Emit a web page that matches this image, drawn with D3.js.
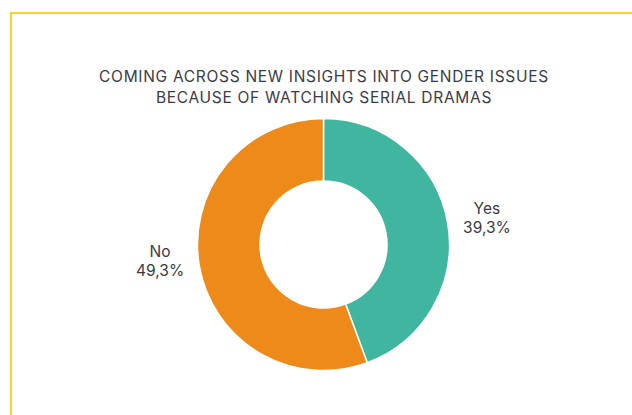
<!DOCTYPE html>
<html>
<head>
<meta charset="utf-8">
<script src="https://cdn.jsdelivr.net/npm/d3@7"></script>
<style>
  html, body { margin: 0; padding: 0; background: #ffffff; }
  svg { display: block; }
  text { font-family: "Inter", "Lato", "DejaVu Sans", sans-serif; }
</style>
</head>
<body>
<svg id="chart" width="632" height="415"></svg>
<script>
// Survey answers
const categories = ["Yes", "No"];
const values = [39.3, 49.3];
const valueLabels = ["39,3%", "49,3%"];
const colors = ["#40B5A0", "#EE8A19"];
const titleLines = [
  "COMING ACROSS NEW INSIGHTS INTO GENDER ISSUES",
  "BECAUSE OF WATCHING SERIAL DRAMAS"
];

const svg = d3.select("#chart");
const W = 632, H = 415;

// Frame: yellow border open on the right and bottom
svg.append("rect")
  .attr("x", 11).attr("y", 13)
  .attr("width", W + 20).attr("height", H + 20)
  .attr("fill", "#ffffff")
  .attr("stroke", "#F6D32E")
  .attr("stroke-width", 2);

// Title
const title = svg.append("text")
  .attr("text-anchor", "middle")
  .attr("fill", "#3b3b46")
  .style("font-size", "15.5px")
  .style("letter-spacing", "0.7px")
  .style("font-weight", 400);
titleLines.forEach((t, i) => {
  title.append("tspan")
    .attr("x", 324)
    .attr("y", 82 + i * 21)
    .text(t);
});

// Donut
const cx = 323.5, cy = 244.5;
const outerR = 126, innerR = 63.5;

const pie = d3.pie().sort(null).value(d => d.value);
const arcs = pie(categories.map((c, i) => ({ cat: c, value: values[i], label: valueLabels[i], color: colors[i] })));
const arc = d3.arc().innerRadius(innerR).outerRadius(outerR);

const g = svg.append("g").attr("transform", `translate(${cx},${cy})`);
g.selectAll("path.slice")
  .data(arcs)
  .join("path")
  .attr("class", "slice")
  .attr("d", arc)
  .attr("fill", d => d.data.color)
  .attr("stroke", "#ffffff")
  .attr("stroke-width", 1.5);

// Outside labels: category name over value, placed off each slice's mid-angle
const labelR = outerR + 40;
const labels = g.selectAll("text.lbl")
  .data(arcs)
  .join("text")
  .attr("class", "lbl")
  .attr("text-anchor", "middle")
  .attr("fill", "#3a3a44")
  .style("font-size", "15.5px")
  .attr("transform", d => {
    const mid = (d.startAngle + d.endAngle) / 2;
    const x = Math.sin(mid) * labelR;
    const y = -Math.cos(mid) * labelR * 0.72 - 5.5;
    return `translate(${x},${y})`;
  });
labels.append("tspan").attr("x", 0).attr("y", -3.5).text(d => d.data.cat);
labels.append("tspan").attr("x", 0).attr("y", 15.5).text(d => d.data.label);
</script>
</body>
</html>
